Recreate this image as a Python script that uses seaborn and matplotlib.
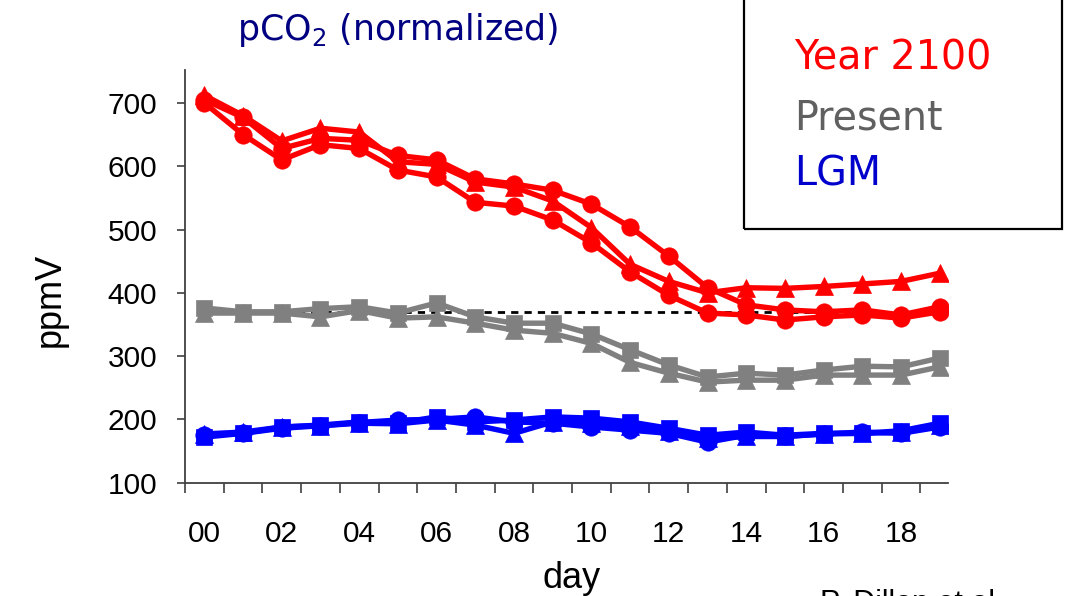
import numpy as np
import pandas as pd
import matplotlib
matplotlib.use("Agg")
import matplotlib.pyplot as plt
from matplotlib.patches import Rectangle
import seaborn as sns

# Sampling days
days = list(range(20))

# Year 2100 replicates (ppmV)
y2100_circle_a = [705, 677, 628, 644, 641, 617, 610, 580, 572, 562, 540, 504, 458, 408, 381, 373, 370, 373, 365, 378]
y2100_circle_b = [700, 650, 610, 634, 628, 594, 583, 543, 537, 515, 479, 433, 396, 368, 365, 357, 362, 365, 360, 370]
y2100_triangle = [712, 680, 640, 660, 654, 607, 603, 575, 567, 545, 503, 445, 418, 400, 408, 407, 410, 414, 418, 431]

# Present replicates (ppmV)
present_square = [376, 370, 370, 375, 378, 368, 384, 362, 352, 352, 335, 310, 286, 267, 273, 270, 278, 284, 283, 297]
present_triangle = [368, 368, 368, 362, 372, 360, 362, 352, 341, 336, 320, 290, 273, 259, 262, 262, 270, 270, 270, 283]

# LGM replicates (ppmV)
lgm_square = [172, 178, 188, 191, 196, 194, 204, 196, 199, 204, 202, 196, 186, 175, 180, 175, 178, 178, 182, 194]
lgm_circle = [175, 178, 186, 190, 195, 199, 200, 204, 196, 194, 188, 183, 178, 164, 175, 173, 177, 180, 178, 188]
lgm_triangle = [177, 180, 188, 190, 194, 193, 199, 191, 178, 196, 195, 190, 182, 170, 173, 173, 177, 178, 180, 191]

# Present-day atmospheric reference level
reference_level = 370

y_ticks = [100, 200, 300, 400, 500, 600, 700]
x_tick_days = list(range(0, 20, 2))
x_tick_labels = [f"{d:02d}" for d in x_tick_days]

legend_labels = ["Year 2100", "Present", "LGM"]

sns.set_style("white", {"xtick.bottom": True, "ytick.left": True})
plt.rcParams["font.family"] = ["Liberation Sans", "DejaVu Sans"]
plt.rcParams["mathtext.default"] = "regular"

fig = plt.figure(figsize=(10.77, 5.96), dpi=100)
ax = fig.add_axes([185 / 1077, 1 - 482.7 / 596, (947.5 - 185) / 1077, (482.7 - 70) / 596])

series = [
    (y2100_circle_a, "#ff0000", "o", 12.5),
    (y2100_circle_b, "#ff0000", "o", 12.5),
    (y2100_triangle, "#ff0000", "^", 13.5),
    (present_square, "#808080", "s", 12),
    (present_triangle, "#808080", "^", 13.5),
    (lgm_square, "#0000ff", "s", 12),
    (lgm_circle, "#0000ff", "o", 12.5),
    (lgm_triangle, "#0000ff", "^", 13.5),
]

ax.plot([days[0], days[-1]], [reference_level, reference_level], color="black",
        lw=2.0, linestyle=(0, (2.6, 2.2)), zorder=1)

for values, color, marker, ms in series:
    df = pd.DataFrame({"day": days, "pco2": values})
    sns.lineplot(data=df, x="day", y="pco2", ax=ax, color=color, marker=marker,
                 markersize=ms, markeredgecolor=color, markeredgewidth=0.5,
                 linewidth=3.9, zorder=3)

ax.set_xlim(-0.5, 19.2)
ax.set_ylim(100, 752)
ax.set_yticks(y_ticks)
ax.set_yticklabels([str(t) for t in y_ticks], fontsize=21.5, color="black")
ax.set_xticks(x_tick_days)
ax.set_xticklabels(x_tick_labels, fontsize=21.5, color="black")
ax.set_xticks(np.arange(-0.5, 19.0, 1.0), minor=True)
ax.tick_params(axis="x", which="major", length=0, pad=27, bottom=True)
ax.tick_params(axis="x", which="minor", length=7, width=1.2, color="#404040",
               direction="out", bottom=True)
ax.tick_params(axis="y", which="major", length=6, width=1.2, color="#404040",
               direction="out", pad=14, left=True)

for side in ["top", "right"]:
    ax.spines[side].set_visible(False)
for side in ["left", "bottom"]:
    ax.spines[side].set_color("#404040")
    ax.spines[side].set_linewidth(1.3)

ax.set_xlabel("")
ax.set_ylabel("")
fig.text(572 / 1077, 1 - 578 / 596, "day", fontsize=26, ha="center", va="center", color="black")
fig.text(50 / 1077, 1 - 300 / 596, "ppmV", fontsize=26, ha="center", va="center",
         rotation=90, color="black")

fig.text(398 / 1077, 1 - 30 / 596, r"pCO$_2$ (normalized)", fontsize=25,
         color="#000080", ha="center", va="center", family="DejaVu Sans")

# Legend box with coloured labels
fig.patches.append(Rectangle((744 / 1077, 1 - 229 / 596), (1062 - 744) / 1077, 0.45,
                             transform=fig.transFigure, fill=False, edgecolor="black",
                             linewidth=1.6))
legend_colors = ["#ff0000", "#606060", "#0000cc"]
legend_y = [58, 118, 175]
for label, color, ypx in zip(legend_labels, legend_colors, legend_y):
    fig.text(794 / 1077, 1 - ypx / 596, label, fontsize=28.5, color=color,
             ha="left", va="center", family="DejaVu Sans")

fig.text(820 / 1077, 1 - 589 / 596, "P. Dillon et al.", fontsize=22, ha="left",
         va="top", color="black")

fig.savefig("out.png", dpi=100)
